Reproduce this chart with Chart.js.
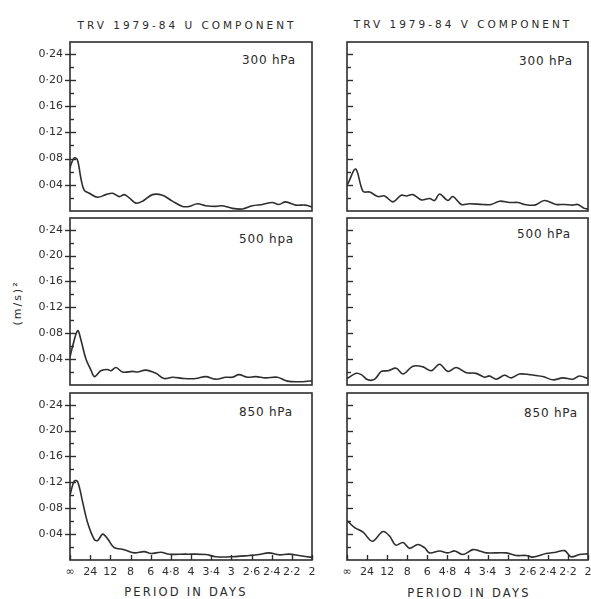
<!DOCTYPE html>
<html>
<head>
<meta charset="utf-8">
<script src="https://cdn.jsdelivr.net/npm/chart.js@4.4.1/dist/chart.umd.min.js"></script>
<style>
    html, body { margin: 0; padding: 0; background: #fff; }
    body { width: 591px; height: 599px; position: relative; overflow: hidden; font-family: "DejaVu Sans", sans-serif; color: #2a2a2a; }
    .panel { position: absolute; }
    .txt { position: absolute; white-space: nowrap; line-height: 12px; }
    .title { font-size: 10.5px; letter-spacing: 3px; transform: translateX(-50%); }
    .level { font-size: 12px; letter-spacing: 0.8px; transform: translate(-100%, -50%); }
    .xtitle { font-size: 11.5px; letter-spacing: 2.2px; transform: translateX(-50%); }
    .ytitle { font-size: 11px; letter-spacing: 2px; transform: translate(-50%, -50%) rotate(-90deg); }
</style>
</head>
<body>

<div class="txt title" style="left:187px; top:19px;">TRV 1979-84 U COMPONENT</div>
<div class="txt title" style="left:463px; top:18px;">TRV 1979-84 V COMPONENT</div>
<div class="txt ytitle" style="left:18px; top:303px;">(m/s)²</div>
<div class="txt xtitle" style="left:186px; top:586px;">PERIOD IN DAYS</div>
<div class="txt xtitle" style="left:469px; top:587px;">PERIOD IN DAYS</div>

<div class="txt level" style="left:296px; top:60px;">300 hPa</div>
<div class="txt level" style="left:573px; top:61px;">300 hPa</div>
<div class="txt level" style="left:294px; top:239px;">500 hpa</div>
<div class="txt level" style="left:571px; top:234px;">500 hPa</div>
<div class="txt level" style="left:293px; top:412px;">850 hPa</div>
<div class="txt level" style="left:578px; top:413px;">850 hPa</div>

<div class="panel" id="p-u300"><canvas id="c-u300"></canvas></div>
<div class="panel" id="p-v300"><canvas id="c-v300"></canvas></div>
<div class="panel" id="p-u500"><canvas id="c-u500"></canvas></div>
<div class="panel" id="p-v500"><canvas id="c-v500"></canvas></div>
<div class="panel" id="p-u850"><canvas id="c-u850"></canvas></div>
<div class="panel" id="p-v850"><canvas id="c-v850"></canvas></div>

<script>
// frequency axis: 0..12 in steps of 1/24 cycles per day, labelled by period
const xLabels = ['∞', '24', '12', '8', '6', '4·8', '4', '3·4', '3', '2·6', '2·4', '2·2', '2'];
const yTickValues = [0.02, 0.04, 0.06, 0.08, 0.10, 0.12, 0.14, 0.16, 0.18, 0.20, 0.22, 0.24];
const yMajorLabels = { '0.04': '0·04', '0.08': '0·08', '0.12': '0·12', '0.16': '0·16', '0.20': '0·20', '0.24': '0·24' };

// U component, 300 hPa
const u300x = [0, 0.05, 0.21, 0.37, 0.54, 0.70, 0.96, 1.37, 1.78, 2.11, 2.44, 2.69, 2.94, 3.27, 3.60, 4.09, 4.59, 5.08, 5.58, 5.91, 6.32, 6.73, 7.23, 7.56, 8.05, 8.55, 9.04, 9.54, 10.03, 10.36, 10.69, 11.19, 11.68, 12];
const u300 = [0.065, 0.071, 0.081, 0.078, 0.050, 0.032, 0.027, 0.021, 0.025, 0.027, 0.022, 0.025, 0.020, 0.012, 0.015, 0.025, 0.024, 0.015, 0.007, 0.007, 0.011, 0.008, 0.007, 0.008, 0.004, 0.003, 0.008, 0.010, 0.013, 0.010, 0.014, 0.009, 0.009, 0.006];

// V component, 300 hPa
const v300x = [0, 0.05, 0.43, 0.80, 1.13, 1.54, 1.87, 2.29, 2.70, 2.95, 3.28, 3.70, 4.11, 4.36, 4.61, 5.02, 5.27, 5.69, 6.10, 6.77, 7.18, 7.60, 8.09, 8.51, 8.84, 9.34, 9.83, 10.41, 10.83, 11.24, 11.49, 11.82, 12];
const v300 = [0.040, 0.042, 0.064, 0.030, 0.029, 0.022, 0.023, 0.014, 0.024, 0.023, 0.025, 0.017, 0.019, 0.016, 0.026, 0.016, 0.022, 0.010, 0.011, 0.010, 0.010, 0.015, 0.013, 0.013, 0.010, 0.009, 0.016, 0.010, 0.010, 0.009, 0.010, 0.004, 0.003];

// U component, 500 hPa
const u500x = [0, 0.13, 0.38, 0.54, 0.79, 1.04, 1.21, 1.53, 1.86, 2.03, 2.28, 2.61, 3.11, 3.35, 3.76, 4.26, 4.67, 5.08, 5.66, 6.24, 6.73, 7.23, 7.72, 8.05, 8.38, 8.80, 9.21, 9.70, 10.28, 10.78, 11.35, 12];
const u500 = [0.043, 0.060, 0.084, 0.070, 0.040, 0.023, 0.013, 0.022, 0.024, 0.022, 0.027, 0.020, 0.021, 0.020, 0.023, 0.018, 0.010, 0.012, 0.010, 0.010, 0.013, 0.009, 0.012, 0.012, 0.016, 0.012, 0.013, 0.011, 0.012, 0.006, 0.005, 0.0065];

// V component, 500 hPa
const v500x = [0, 0.46, 0.71, 1.04, 1.38, 1.71, 2.04, 2.45, 2.79, 3.28, 3.78, 4.19, 4.61, 5.02, 5.44, 5.94, 6.43, 6.85, 7.10, 7.43, 7.84, 8.18, 8.59, 9.09, 9.75, 10.25, 10.75, 11.24, 11.57, 12];
const v500 = [0.010, 0.018, 0.016, 0.008, 0.009, 0.021, 0.022, 0.026, 0.017, 0.029, 0.028, 0.022, 0.032, 0.021, 0.027, 0.019, 0.018, 0.012, 0.014, 0.009, 0.015, 0.011, 0.017, 0.016, 0.013, 0.008, 0.011, 0.009, 0.014, 0.010];

// U component, 850 hPa
const u850x = [0, 0.21, 0.38, 0.63, 0.87, 1.20, 1.37, 1.62, 1.86, 2.19, 2.52, 2.77, 3.19, 3.68, 4.01, 4.51, 4.92, 5.75, 6.73, 7.23, 8.05, 8.88, 9.37, 9.86, 10.36, 10.86, 11.35, 12];
const u850 = [0.100, 0.122, 0.121, 0.089, 0.058, 0.032, 0.030, 0.040, 0.033, 0.019, 0.017, 0.015, 0.011, 0.013, 0.010, 0.012, 0.009, 0.009, 0.0085, 0.005, 0.005, 0.007, 0.0085, 0.011, 0.008, 0.009, 0.007, 0.004];

// V component, 850 hPa
const v850x = [0, 0.38, 0.80, 1.26, 1.79, 2.12, 2.42, 2.79, 3.12, 3.53, 3.86, 4.11, 4.61, 5.02, 5.36, 5.77, 6.27, 6.60, 6.93, 7.93, 8.42, 8.92, 9.25, 9.91, 10.41, 10.83, 11.16, 11.57, 12];
const v850 = [0.061, 0.050, 0.043, 0.029, 0.044, 0.037, 0.023, 0.027, 0.018, 0.024, 0.019, 0.011, 0.014, 0.011, 0.014, 0.0085, 0.016, 0.014, 0.011, 0.011, 0.007, 0.007, 0.0045, 0.010, 0.012, 0.0145, 0.005, 0.0085, 0.0095];

const INK = '#2e2e2e';

const panels = [
    { id: 'u300', col: 0, row: 0, xs: u300x, ys: u300 },
    { id: 'v300', col: 1, row: 0, xs: v300x, ys: v300 },
    { id: 'u500', col: 0, row: 1, xs: u500x, ys: u500 },
    { id: 'v500', col: 1, row: 1, xs: v500x, ys: v500 },
    { id: 'u850', col: 0, row: 2, xs: u850x, ys: u850 },
    { id: 'v850', col: 1, row: 2, xs: v850x, ys: v850 }
];

// wrapper boxes; chart areas land on the scanned frames
const colBox = [
    { left: 0, width: 316, axisW: 70, padR: 4 },
    { left: 300, width: 291, axisW: 47, padR: 3 }
];
const rowBox = [
    { top: 40, height: 174, padB: 3, xH: 0 },
    { top: 216, height: 172, padB: 3, xH: 0 },
    { top: 391, height: 192, padB: 0, xH: 23 }
];

// frame + inside ticks like the original figure
const framePlugin = {
    id: 'frame',
    afterDraw(chart, args, opts) {
        const { ctx, chartArea: a, scales } = chart;
        ctx.save();
        ctx.strokeStyle = INK;
        ctx.lineWidth = 1.4;

        yTickValues.forEach(v => {
            const y = Math.round(scales.y.getPixelForValue(v)) + 0.5;
            const major = Math.round(v * 100) % 4 === 0;
            const x0 = (major && opts.leftCol) ? a.left - 5 : a.left;
            const x1 = a.left + (major ? 6 : 4);
            ctx.beginPath();
            ctx.moveTo(x0, y);
            ctx.lineTo(x1, y);
            ctx.stroke();
        });

        if (opts.bottomRow) {
            xLabels.forEach((lab, i) => {
                const x = Math.round(scales.x.getPixelForValue(i)) + 0.5;
                ctx.beginPath();
                ctx.moveTo(x, a.bottom);
                ctx.lineTo(x, a.bottom - 5);
                ctx.stroke();
            });
        }

        ctx.lineWidth = 1.6;
        ctx.strokeRect(a.left, a.top, a.right - a.left, a.bottom - a.top);
        ctx.restore();
    }
};

function buildPanel(p) {
    const c = colBox[p.col];
    const r = rowBox[p.row];
    const wrap = document.getElementById('p-' + p.id);
    wrap.style.left = c.left + 'px';
    wrap.style.top = r.top + 'px';
    wrap.style.width = c.width + 'px';
    wrap.style.height = r.height + 'px';

    const bottomRow = p.row === 2;
    const leftCol = p.col === 0;
    const points = p.xs.map((x, i) => ({ x: x, y: p.ys[i] }));

    new Chart(document.getElementById('c-' + p.id), {
        type: 'line',
        data: {
            datasets: [{
                data: points,
                borderColor: INK,
                borderWidth: 1.6,
                pointRadius: 0,
                tension: 0.35,
                fill: false
            }]
        },
        options: {
            responsive: true,
            maintainAspectRatio: false,
            animation: false,
            events: [],
            layout: { padding: { top: 2, right: c.padR, bottom: r.padB, left: 0 } },
            plugins: {
                legend: { display: false },
                tooltip: { enabled: false },
                frame: { leftCol: leftCol, bottomRow: bottomRow }
            },
            scales: {
                x: {
                    type: 'linear',
                    min: 0,
                    max: 12,
                    display: bottomRow,
                    border: { display: false },
                    grid: { display: false, drawTicks: false },
                    afterBuildTicks: s => { s.ticks = xLabels.map((l, i) => ({ value: i })); },
                    afterFit: s => {
                        s.height = r.xH;
                        s.paddingLeft = 0;
                        s.paddingRight = 0;
                    },
                    ticks: {
                        autoSkip: false,
                        maxRotation: 0,
                        padding: 6,
                        color: INK,
                        font: { family: 'DejaVu Sans', size: 11 },
                        callback: v => xLabels[v]
                    }
                },
                y: {
                    min: 0,
                    max: 0.258,
                    border: { display: false },
                    grid: { display: false, drawTicks: false },
                    afterBuildTicks: s => { s.ticks = yTickValues.map(v => ({ value: v })); },
                    afterFit: s => {
                        s.width = c.axisW;
                        s.paddingTop = 0;
                        s.paddingBottom = 0;
                    },
                    ticks: {
                        autoSkip: false,
                        padding: 7,
                        color: INK,
                        font: { family: 'DejaVu Sans', size: 11 },
                        callback: v => leftCol ? (yMajorLabels[v.toFixed(2)] || '') : ''
                    }
                }
            }
        },
        plugins: [framePlugin]
    });
}

panels.forEach(buildPanel);
</script>
</body>
</html>
